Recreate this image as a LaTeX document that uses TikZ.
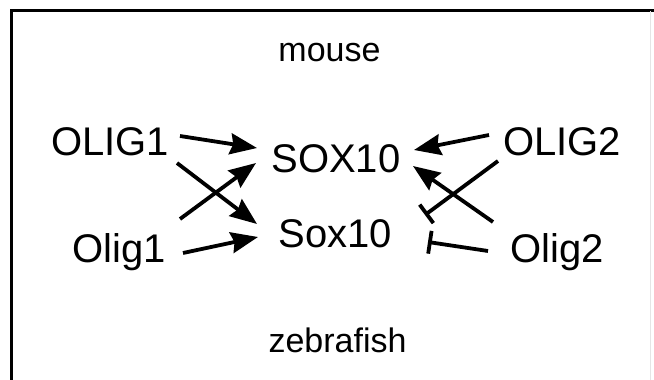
\documentclass[tikz,border=0pt]{standalone}
\usepackage{fontspec}
\setmainfont{Liberation Sans}
\usetikzlibrary{arrows.meta}
\begin{document}
\begin{tikzpicture}[x=1pt,y=-1pt,
  gene/.style={inner sep=0pt, anchor=base, font=\fontsize{40}{48}\selectfont},
  species/.style={inner sep=0pt, anchor=base, font=\fontsize{34}{40}\selectfont},
  link/.style={line width=3.8pt},
  act/.style={link, -{Stealth[length=27pt,width=21pt,inset=3pt]}},
  inh/.style={link, -{Bar[width=23pt]}},
]
\useasboundingbox (0,0) rectangle (654,380);
% panel frame
\draw[line width=3pt] (11.5,380) -- (11.5,10.5) -- (654,10.5);
\draw[black!10, line width=1pt] (650,11) -- (650,380);

% species labels
\node[species] (mouse) at (329.5,61) {mouse};
\node[species] (zebrafish) at (337.5,352) {zebrafish};

% genes
\node[gene] (OLIG1) at (110,155) {OLIG1};
\node[gene] (SOX10) at (336,172) {SOX10};
\node[gene] (OLIG2) at (562,155) {OLIG2};
\node[gene] (Olig1) at (119.5,262) {Olig1};
\node[gene] (Sox10) at (335.5,247) {Sox10};
\node[gene] (Olig2) at (557,262) {Olig2};

% activation (left side)
\draw[act] ([shift={(70,-19)}]OLIG1.base) -- ([shift={(-79,-24)}]SOX10.base);
\draw[act] ([shift={(67,8)}]OLIG1.base) -- ([shift={(-78.5,-23)}]Sox10.base);
\draw[act] ([shift={(60.5,-43)}]Olig1.base) -- ([shift={(-80,-9)}]SOX10.base);
\draw[act] ([shift={(63.5,-9)}]Olig1.base) -- ([shift={(-77.5,-10)}]Sox10.base);

% right side: activation and repression
\draw[act] ([shift={(-73,-20)}]OLIG2.base) -- ([shift={(78,-22)}]SOX10.base);
\draw[inh] ([shift={(-64,6)}]OLIG2.base) -- ([shift={(89.5,-32)}]Sox10.base);
\draw[act] ([shift={(-64,-40)}]Olig2.base) -- ([shift={(77,-6)}]SOX10.base);
\draw[inh] ([shift={(-69,-11)}]Olig2.base) -- ([shift={(92.5,-5)}]Sox10.base);
\end{tikzpicture}
\end{document}
